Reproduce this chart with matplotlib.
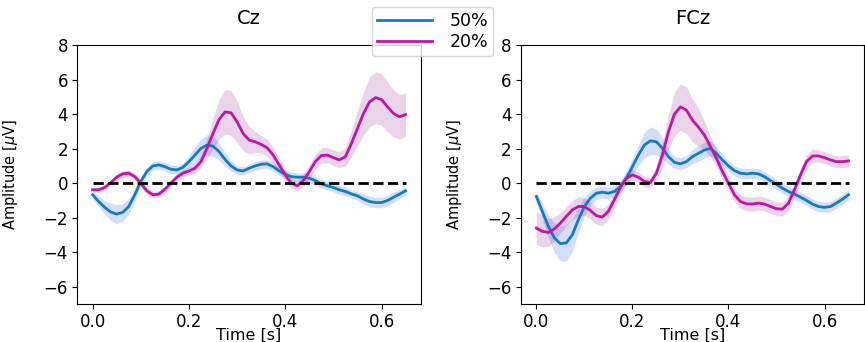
import matplotlib.pyplot as plt
import numpy as np

# time axis, 12.5 ms steps from 0 to 650 ms
t = np.round(np.arange(53) * 0.0125, 4)

cz_50 = [-0.67, -1.06, -1.4, -1.67, -1.79, -1.69, -1.35, -0.67, 0.1, 0.67, 1.0, 1.06, 0.96, 0.81,
         0.77, 0.92, 1.25, 1.63, 2.02, 2.21, 2.15, 1.83, 1.38, 1.0, 0.77, 0.71, 0.87, 1.0, 1.1, 1.12,
         0.96, 0.71, 0.52, 0.38, 0.35, 0.35, 0.29, 0.15, -0.04, -0.15, -0.25, -0.38, -0.48, -0.62,
         -0.73, -0.92, -1.06, -1.12, -1.12, -1.0, -0.81, -0.63, -0.44]
cz_50_err = [0.25, 0.3, 0.4, 0.5, 0.55, 0.5, 0.45, 0.35, 0.3, 0.25, 0.25, 0.25, 0.25, 0.25,
             0.25, 0.25, 0.35, 0.45, 0.55, 0.6, 0.6, 0.5, 0.4, 0.3, 0.25, 0.25, 0.25, 0.25, 0.25, 0.25,
             0.25, 0.25, 0.25, 0.25, 0.25, 0.25, 0.25, 0.25, 0.25, 0.25, 0.25, 0.25, 0.25, 0.25,
             0.25, 0.3, 0.3, 0.3, 0.3, 0.3, 0.3, 0.25, 0.25]
cz_20 = [-0.38, -0.38, -0.25, 0.04, 0.35, 0.54, 0.58, 0.38, 0.0, -0.44, -0.67, -0.63, -0.35, 0.0,
         0.35, 0.58, 0.71, 0.87, 1.25, 2.02, 2.88, 3.69, 4.13, 4.08, 3.56, 2.88, 2.5, 2.4, 2.25, 2.05,
         1.63, 1.06, 0.48, 0.0, -0.15, 0.15, 0.67, 1.25, 1.6, 1.63, 1.48, 1.35, 1.54, 2.31,
         3.17, 4.04, 4.71, 4.96, 4.85, 4.42, 4.04, 3.85, 3.98]
cz_20_err = [0.15, 0.15, 0.15, 0.15, 0.2, 0.2, 0.2, 0.2, 0.2, 0.2, 0.2, 0.2, 0.2, 0.2,
             0.2, 0.2, 0.25, 0.3, 0.35, 0.6, 0.9, 1.15, 1.3, 1.3, 1.2, 1.0, 0.8, 0.6, 0.5, 0.5,
             0.45, 0.4, 0.35, 0.3, 0.3, 0.35, 0.4, 0.45, 0.45, 0.45, 0.45, 0.45, 0.55, 0.75,
             1.0, 1.25, 1.45, 1.5, 1.5, 1.45, 1.35, 1.3, 1.25]

fcz_50 = [-0.77, -1.63, -2.5, -3.17, -3.5, -3.46, -2.98, -2.12, -1.35, -0.87, -0.58, -0.52, -0.58, -0.48,
          -0.19, 0.29, 0.96, 1.63, 2.21, 2.46, 2.4, 2.02, 1.54, 1.21, 1.12, 1.25, 1.54, 1.73, 1.92, 2.02,
          1.73, 1.35, 1.0, 0.73, 0.58, 0.54, 0.58, 0.54, 0.38, 0.15, -0.06, -0.29, -0.48, -0.63,
          -0.81, -1.0, -1.21, -1.35, -1.4, -1.35, -1.15, -0.92, -0.67]
fcz_50_err = [0.3, 0.45, 0.65, 0.85, 1.0, 1.05, 0.95, 0.75, 0.55, 0.45, 0.35, 0.35, 0.35, 0.35,
              0.35, 0.4, 0.5, 0.6, 0.75, 0.8, 0.75, 0.6, 0.45, 0.35, 0.35, 0.35, 0.4, 0.45, 0.45, 0.45,
              0.4, 0.3, 0.3, 0.3, 0.3, 0.3, 0.3, 0.3, 0.3, 0.3, 0.3, 0.3, 0.3, 0.3,
              0.3, 0.3, 0.3, 0.3, 0.3, 0.3, 0.3, 0.3, 0.3]
fcz_20 = [-2.6, -2.79, -2.85, -2.65, -2.31, -1.92, -1.54, -1.35, -1.35, -1.58, -1.88, -1.96, -1.63, -0.96,
          -0.25, 0.29, 0.48, 0.35, 0.1, 0.04, 0.58, 1.63, 2.98, 4.0, 4.42, 4.23, 3.65, 3.25, 2.79, 2.12,
          1.44, 0.67, 0.0, -0.67, -1.06, -1.19, -1.21, -1.15, -1.21, -1.35, -1.48, -1.5, -1.15, -0.38,
          0.48, 1.25, 1.58, 1.58, 1.48, 1.35, 1.25, 1.25, 1.29]
fcz_20_err = [0.95, 0.9, 0.8, 0.7, 0.6, 0.55, 0.55, 0.55, 0.5, 0.5, 0.5, 0.5, 0.45, 0.4,
              0.3, 0.3, 0.3, 0.3, 0.3, 0.3, 0.4, 0.7, 1.0, 1.25, 1.35, 1.35, 1.25, 1.1, 0.8, 0.6,
              0.5, 0.45, 0.4, 0.4, 0.4, 0.4, 0.4, 0.4, 0.4, 0.4, 0.4, 0.4, 0.4, 0.4,
              0.4, 0.4, 0.4, 0.35, 0.35, 0.35, 0.35, 0.35, 0.35]

titles = ["Cz", "FCz"]
c50, c20 = "#137dbb", "#c214a5"

fig = plt.figure(figsize=(8.65, 3.42), dpi=100)
ax1 = fig.add_axes([0.089, 0.111, 0.398, 0.757])
ax2 = fig.add_axes([0.602, 0.111, 0.397, 0.757])

for ax, title, m50, e50, m20, e20 in [(ax1, titles[0], cz_50, cz_50_err, cz_20, cz_20_err),
                                      (ax2, titles[1], fcz_50, fcz_50_err, fcz_20, fcz_20_err)]:
    m50, e50, m20, e20 = map(np.array, (m50, e50, m20, e20))
    ax.fill_between(t, m50 - e50, m50 + e50, color="royalblue", alpha=0.22, lw=0)
    ax.fill_between(t, m20 - e20, m20 + e20, color="purple", alpha=0.17, lw=0)
    l1, = ax.plot(t, m50, color=c50, lw=2, label="50%")
    l2, = ax.plot(t, m20, color=c20, lw=2, label="20%")
    ax.hlines(0, t[0], t[-1], colors="k", linestyles="--", lw=2)
    ax.set_ylim(-7, 8)
    ax.set_yticks([-6, -4, -2, 0, 2, 4, 6, 8])
    ax.set_xticks([0.0, 0.2, 0.4, 0.6])
    ax.tick_params(labelsize=12, pad=3)
    ax.set_title(title, fontsize=14, pad=15)
    ax.set_xlabel("Time [s]", fontsize=11.5)
    ax.xaxis.set_label_coords(0.5, -0.09)
    ax.set_ylabel(r"Amplitude [$\mu$V]", fontsize=10.5)
    ax.yaxis.set_label_coords(-0.165, 0.5)

fig.legend([l1, l2], ["50%", "20%"], loc="upper center", bbox_to_anchor=(0.5, 1.005), fontsize=12.5,
           handlelength=3.2, borderpad=0.3, labelspacing=0.15, handletextpad=1.0)
fig.savefig("out.png")
